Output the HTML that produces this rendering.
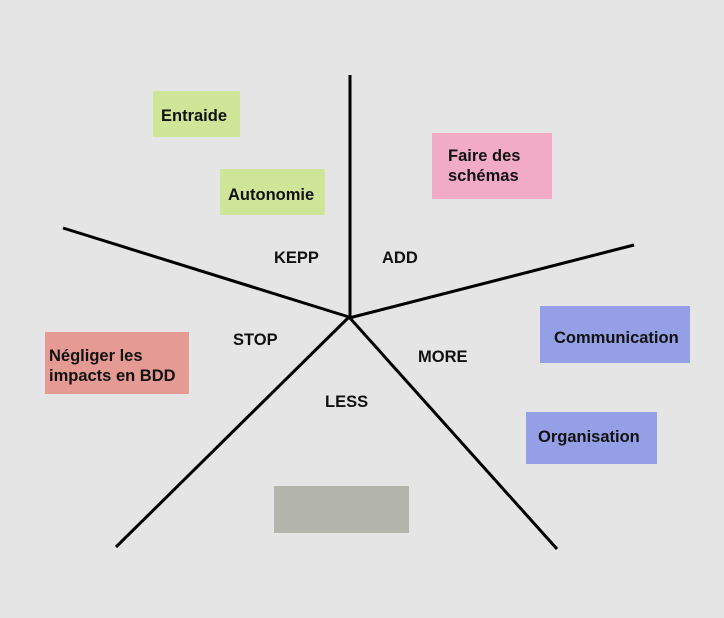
<!DOCTYPE html>
<html><head><meta charset="utf-8"><style>
html,body{margin:0;padding:0}
body{width:724px;height:618px;background:#e5e5e5;position:relative;overflow:hidden;font-family:"Liberation Sans",sans-serif;}
.b{position:absolute;box-sizing:border-box;font-size:16.5px;font-weight:bold;color:#111;line-height:20px;}
.t{position:absolute;font-size:16.5px;font-weight:bold;color:#111;}
</style></head><body>
<svg width="724" height="618" style="position:absolute;left:0;top:0">
<g stroke="#000" stroke-width="3" fill="none" stroke-linecap="butt">
<line x1="350" y1="75" x2="350" y2="317"/>
<line x1="63" y1="228" x2="349" y2="317"/>
<line x1="634" y1="245" x2="349" y2="318"/>
<line x1="116" y1="547" x2="349" y2="317"/>
<line x1="557" y1="549" x2="349" y2="317"/>
</g></svg>
<div class="b" style="left:153px;top:91px;width:87px;height:46px;background:#cfe598;padding:15px 0 0 8px">Entraide</div>
<div class="b" style="left:220px;top:169px;width:105px;height:46px;background:#cfe598;padding:16px 0 0 8px">Autonomie</div>
<div class="b" style="left:432px;top:133px;width:120px;height:66px;background:#f2abc4;padding:13px 0 0 16px">Faire des<br>schémas</div>
<div class="b" style="left:540px;top:306px;width:150px;height:57px;background:#949fe6;padding:22px 0 0 14px">Communication</div>
<div class="b" style="left:526px;top:412px;width:131px;height:52px;background:#949fe6;padding:15px 0 0 12px">Organisation</div>
<div class="b" style="left:45px;top:332px;width:144px;height:62px;background:#e69a94;padding:14px 0 0 4px">Négliger les<br>impacts en BDD</div>
<div class="b" style="left:274px;top:486px;width:135px;height:47px;background:#b3b5ad"></div>
<div class="t" style="left:274px;top:249px">KEPP</div>
<div class="t" style="left:382px;top:249px">ADD</div>
<div class="t" style="left:233px;top:331px">STOP</div>
<div class="t" style="left:418px;top:348px">MORE</div>
<div class="t" style="left:325px;top:393px">LESS</div>
</body></html>
